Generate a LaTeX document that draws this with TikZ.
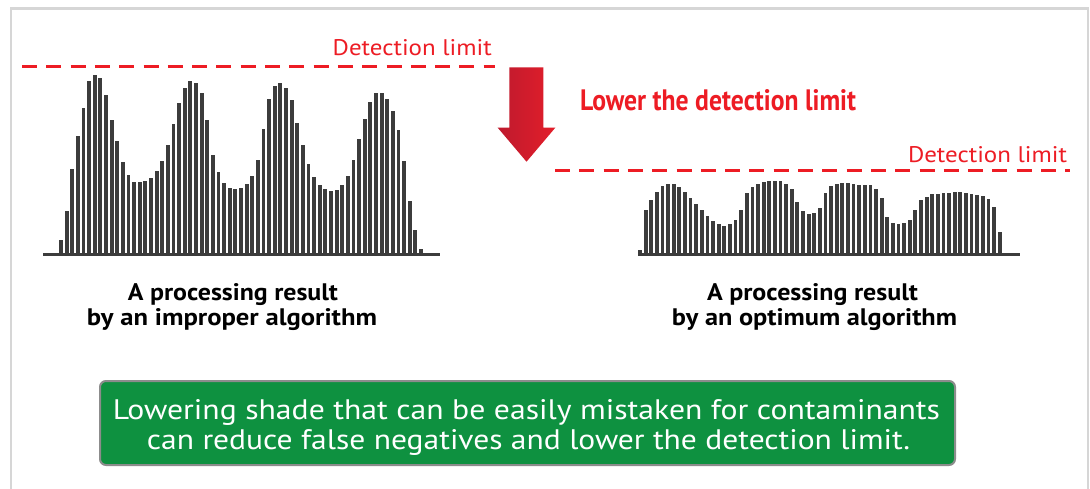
\documentclass[tikz,border=0pt]{standalone}
\usepackage{fontspec}
\setmainfont{PT Sans}
\usepackage{graphicx}
\definecolor{dlred}{HTML}{ED1C24}
\definecolor{bargray}{HTML}{3C3C3C}
\definecolor{framegray}{HTML}{D6D6D6}
\definecolor{boxgreen}{HTML}{0E9140}
\definecolor{boxborder}{HTML}{8C8C8C}
\definecolor{arrowdark}{HTML}{BE1A2E}
\definecolor{arrowlight}{HTML}{E31E2A}
\newcommand{\fitbox}[3]{\resizebox{#1pt}{#2pt}{#3}}
\begin{document}
\begin{tikzpicture}[x=1pt,y=-1pt,
  txt/.style={inner sep=0pt, outer sep=0pt},
  limitline/.style={dlred, line width=3pt, dash pattern=on 15pt off 9.3pt},
  bar/.style={fill=bargray},
  axisline/.style={bargray, line width=3pt}]
\useasboundingbox (0,0) rectangle (1090,489);
\fill[white] (0,0) rectangle (1090,489);
\draw[framegray, line width=2.5pt] (11,520) -- (11,8.5) -- (1088,8.5) -- (1088,520);

% detection limit lines and labels
\draw[limitline] (22,66.3) -- (495,66.3);
\node[txt, anchor=base west, text=dlred] (dl1) at (332.7,56) {\fitbox{159}{16}{Detection limit}};
\draw[limitline] (555,171) -- (1070,171);
\node[txt, anchor=base west, text=dlred] (dl2) at (908,162.5) {\fitbox{159}{16}{Detection limit}};

% arrow
\shade[left color=arrowdark, right color=arrowlight]
  (509.3,67.3) -- (543.3,67.3) -- (543.3,127.7) -- (555.3,127.7) -- (526.5,161.7)
  -- (497.7,127.7) -- (509.3,127.7) -- cycle;
\node[txt, anchor=base west, text=dlred] (lower) at (580,111) {\fitbox{276}{21}{\bfseries Lower the detection limit}};

% left histogram
\foreach \h [count=\i] in {13,41.6,84,117,145,171.7,177.7,174.7,157.7,133,112.3,91.3,78.3,70.7,70.7,71.7,75.3,82.3,92,107.7,129,150.3,165.3,171.7,170,160,133,97.7,80.7,69.7,65,64,65,68.7,77,93,124,154,167,170,165,153,130,108,89,75.7,68,64.3,62,63.3,68.3,77.3,93,114,134,151,159.7,159.7,153.7,142.3,123,91.7,52,23.3,4}
  \fill[bar] ({61+(\i-1)*5.625-1.9},253) rectangle ({61+(\i-1)*5.625+1.9},{253-\h});
\draw[axisline] (43,254.4) -- (440,254.4);

% right histogram
\foreach \h [count=\i] in {2.7,42.7,53.3,61.3,66.7,68.7,68.7,65.7,60.7,55,48.7,42.7,37.3,32.3,29,27.3,29,33,43.3,59.7,65.7,68.7,71.3,72.3,72.3,71.7,68.7,64,51,41.7,39,40.3,44.7,60,66.7,69.3,70.3,70,69.3,68.3,68.3,68,64.3,55.3,36.3,30.3,28.7,29.7,33.3,42.7,53.3,56.3,58.7,58.7,60.3,60.3,60.7,60.7,60,59.3,58.3,56.7,54.3,46.3,21.3}
  \fill[bar] ({640+(\i-1)*5.62-1.9},253) rectangle ({640+(\i-1)*5.62+1.9},{253-\h});
\draw[axisline] (638,254.4) -- (1020,254.4);

% captions
\node[txt, anchor=base] (capL1) at (233,301) {\fitbox{210}{17}{\bfseries A processing result}};
\node[txt, anchor=base] (capL2) at (232,325) {\fitbox{290}{17}{\bfseries by an improper algorithm}};
\node[txt, anchor=base] (capR1) at (812.5,301) {\fitbox{211}{17}{\bfseries A processing result}};
\node[txt, anchor=base] (capR2) at (814.5,325) {\fitbox{285}{17}{\bfseries by an optimum algorithm}};

% green message box
\node[draw=boxborder, line width=2pt, fill=boxgreen, rounded corners=6pt,
      minimum width=855pt, minimum height=84pt, inner sep=0pt] (msg) at (527.5,423) {};
\node[txt, anchor=base, text=white] (msg1) at (526.5,419) {\fitbox{827}{20}{Lowering shade that can be easily mistaken for contaminants}};
\node[txt, anchor=base, text=white] (msg2) at (528.5,449) {\fitbox{763}{20}{can reduce false negatives and lower the detection limit.}};
\end{tikzpicture}
\end{document}
